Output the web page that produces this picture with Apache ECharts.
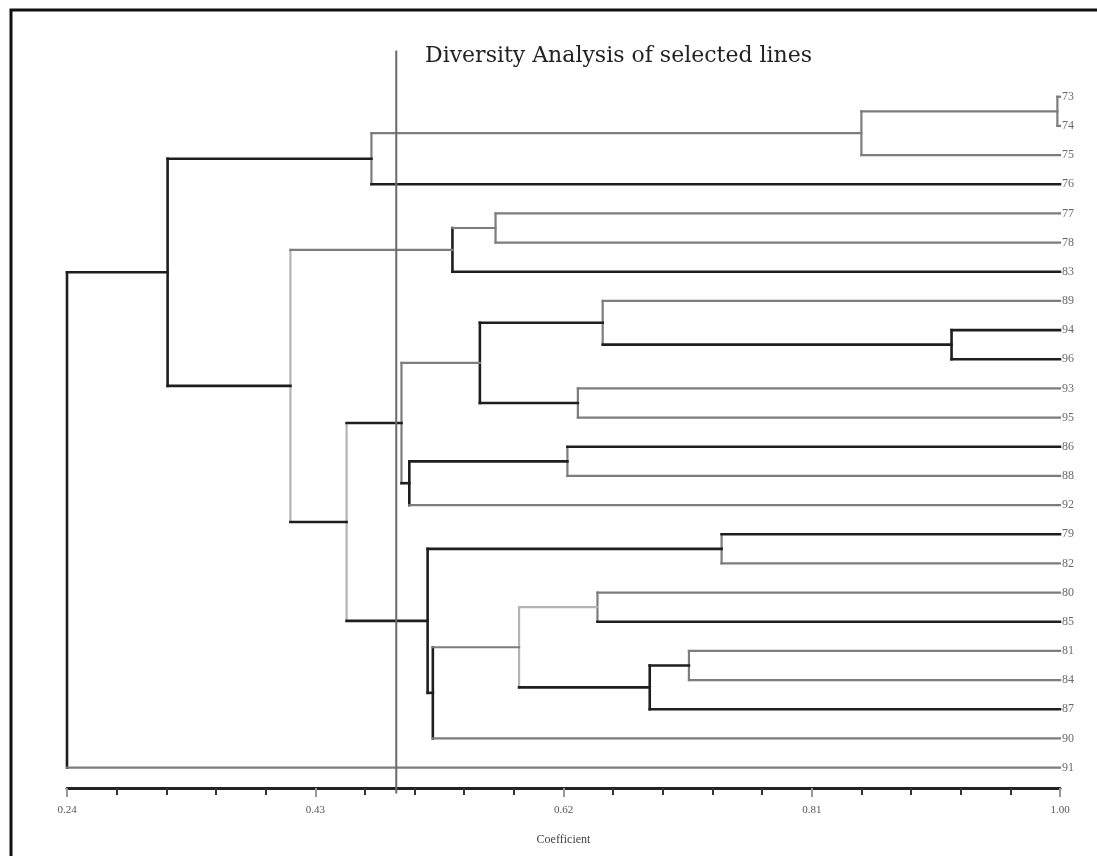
<!DOCTYPE html>
<html>
<head>
<meta charset="utf-8">
<title>Diversity Analysis of selected lines</title>
<script src="https://cdn.jsdelivr.net/npm/echarts@6/dist/echarts.min.js"></script>
<style>
    html, body { margin: 0; padding: 0; background: #fff; }
    #box1 { width: 1097px; height: 856px; }
</style>
</head>
<body>
<div id="box1"></div>
<script>
// leaves, top to bottom
var leaves = ['73', '74', '75', '76', '77', '78', '83', '89', '94', '96', '93', '95',
              '86', '88', '92', '79', '82', '80', '85', '81', '84', '87', '90', '91'];

// merges: [id, left, right, coefficient]
var merges = [
    ['c1', '73', '74', 0.998],
    ['c2', 'c1', '75', 0.848],
    ['c3', 'c2', '76', 0.473],
    ['c4', '77', '78', 0.568],
    ['c5', 'c4', '83', 0.535],
    ['c6', '94', '96', 0.917],
    ['c7', '89', 'c6', 0.650],
    ['c8', '93', '95', 0.631],
    ['c9', 'c7', 'c8', 0.556],
    ['c10', '86', '88', 0.623],
    ['c11', 'c10', '92', 0.502],
    ['c12', 'c9', 'c11', 0.496],
    ['c13', '79', '82', 0.741],
    ['c14', '80', '85', 0.646],
    ['c15', '81', '84', 0.716],
    ['c16', 'c15', '87', 0.686],
    ['c17', 'c14', 'c16', 0.586],
    ['c18', 'c17', '90', 0.520],
    ['c19', 'c13', 'c18', 0.516],
    ['c20', 'c12', 'c19', 0.454],
    ['c21', 'c5', 'c20', 0.411],
    ['c22', 'c3', 'c21', 0.317],
    ['c23', 'c22', '91', 0.240]
];

var leafLevel = 1.00;
var cutoff = 0.492;
var xTicks = [0.24, 0.43, 0.62, 0.81, 1.00];

// which links are printed dark or faint (the rest mid grey)
var darkLinks = ['76', 'c3', 'c22', '83', 'c21', '94', '96', 'c6', 'c7', 'c8', '86', 'c10', 'c11',
                 'c12', 'c20', '79', 'c13', 'c19', '85', 'c15', '87', 'c16', 'c18',
                 'v:c22', 'v:c23', 'v:c5', 'v:c6', 'v:c9', 'v:c11', 'v:c19', 'v:c16', 'v:c18'];
var lightLinks = ['c14', 'v:c21', 'v:c20', 'v:c17'];

window.onload = function () {
    var myChart = echarts.init(document.getElementById('box1'));

    // node positions: x = coefficient, y = leaf index
    var pos = {};
    leaves.forEach(function (name, i) {
        pos[name] = { x: leafLevel, y: i };
    });

    function tone(key) {
        if (darkLinks.indexOf(key) >= 0) return 0;
        if (lightLinks.indexOf(key) >= 0) return 2;
        return 1;
    }

    var segs = [];
    merges.forEach(function (m) {
        var a = pos[m[1]], b = pos[m[2]], h = m[3];
        pos[m[0]] = { x: h, y: (a.y + b.y) / 2 };
        segs.push([h, a.y, h, b.y, tone('v:' + m[0])]);
        segs.push([a.x, a.y, h, a.y, tone(m[1])]);
        segs.push([b.x, b.y, h, b.y, tone(m[2])]);
    });
    // phenon line
    segs.push([cutoff, -1.55, cutoff, 23.85, 3]);

    var tones = [
        { stroke: '#1e1e1e', lineWidth: 2.6 },
        { stroke: '#7d7d7d', lineWidth: 2.2 },
        { stroke: '#b4b4b4', lineWidth: 2.2 },
        { stroke: '#6a6a6a', lineWidth: 2 }
    ];

    var option = {
        animation: false,
        title: {
            text: 'Diversity Analysis of selected lines',
            left: 420,
            top: 40,
            textStyle: {
                fontFamily: 'DejaVu Serif',
                fontSize: 22,
                fontWeight: 'normal',
                color: '#222'
            }
        },
        graphic: [{
            type: 'polyline',
            shape: { points: [[11, 856], [11, 10], [1097, 10]] },
            style: { stroke: '#111', lineWidth: 3, fill: null }
        }],
        grid: { left: 67, right: 37, top: 88, bottom: 68 },
        xAxis: {
            type: 'value',
            position: 'bottom',
            min: xTicks[0],
            max: xTicks[xTicks.length - 1],
            interval: 0.19,
            name: 'Coefficient',
            nameLocation: 'middle',
            nameGap: 46,
            nameTextStyle: { fontFamily: 'Liberation Serif', fontSize: 12, color: '#444' },
            axisLine: { onZero: false, lineStyle: { color: '#222', width: 3 } },
            axisTick: { length: 9, lineStyle: { color: '#999', width: 2 } },
            minorTick: { show: true, splitNumber: 5, length: 7, lineStyle: { color: '#333', width: 2 } },
            splitLine: { show: false },
            axisLabel: {
                margin: 17,
                fontFamily: 'Liberation Serif',
                fontSize: 11,
                color: '#555',
                formatter: function (v) { return v.toFixed(2); }
            }
        },
        yAxis: {
            type: 'value',
            inverse: true,
            min: -0.3,
            max: 23.7,
            show: false
        },
        series: [{
            type: 'custom',
            data: segs,
            encode: { x: [0, 2], y: [1, 3] },
            renderItem: function (params, api) {
                var p1 = api.coord([api.value(0), api.value(1)]);
                var p2 = api.coord([api.value(2), api.value(3)]);
                var t = tones[api.value(4)];
                return {
                    type: 'line',
                    shape: { x1: p1[0], y1: p1[1], x2: p2[0], y2: p2[1] },
                    style: { stroke: t.stroke, lineWidth: t.lineWidth, lineCap: 'square' }
                };
            }
        }, {
            type: 'scatter',
            symbolSize: 0,
            data: leaves.map(function (name, i) { return [leafLevel, i, name]; }),
            label: {
                show: true,
                position: 'right',
                distance: 2,
                fontFamily: 'Liberation Serif',
                fontSize: 12,
                color: '#444',
                formatter: function (p) { return p.data[2]; }
            }
        }]
    };
    myChart.setOption(option);
    window.addEventListener('resize', function () {
        myChart.resize();
    });
};
</script>
</body>
</html>
